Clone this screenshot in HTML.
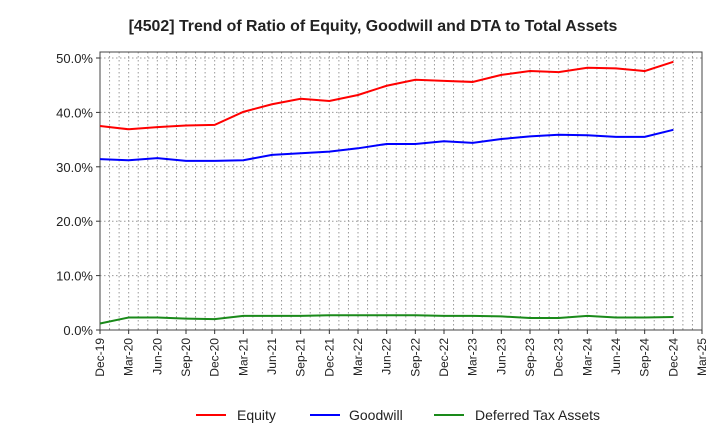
<!DOCTYPE html>
<html><head><meta charset="utf-8"><style>
body{margin:0;background:#fff;font-family:"Liberation Sans",sans-serif;}
</style></head><body>
<svg id="c" width="720" height="440" style="font-family:'Liberation Sans',sans-serif">
<text x="373" y="31" text-anchor="middle" font-size="15.9" font-weight="bold" fill="#222">[4502]  Trend of Ratio of Equity, Goodwill and DTA to Total Assets</text>
<g id="grid"></g><g id="axes"></g><g id="series"></g>
<g>
<line x1="196" y1="415" x2="226" y2="415" stroke="#f00" stroke-width="2"/><text x="237" y="420" font-size="14" fill="#222">Equity</text>
<line x1="310" y1="415" x2="340" y2="415" stroke="#00f" stroke-width="2"/><text x="349" y="420" font-size="14" fill="#222">Goodwill</text>
<line x1="434" y1="415" x2="464" y2="415" stroke="#1a8a1a" stroke-width="2"/><text x="475" y="420" font-size="14" fill="#222">Deferred Tax Assets</text>
</g>
</svg>
<script>
const xLabels=["Dec-19","Mar-20","Jun-20","Sep-20","Dec-20","Mar-21","Jun-21","Sep-21","Dec-21","Mar-22","Jun-22","Sep-22","Dec-22","Mar-23","Jun-23","Sep-23","Dec-23","Mar-24","Jun-24","Sep-24","Dec-24","Mar-25"];
const yTicks=[0,10,20,30,40,50];
const equity=[37.5,36.9,37.3,37.6,37.7,40.1,41.5,42.5,42.1,43.2,44.9,46.0,45.8,45.6,46.9,47.6,47.4,48.2,48.1,47.6,49.3];
const goodwill=[31.4,31.2,31.6,31.1,31.1,31.2,32.2,32.5,32.8,33.4,34.2,34.2,34.7,34.4,35.1,35.6,35.9,35.8,35.5,35.5,36.8];
const dta=[1.2,2.3,2.3,2.1,2.0,2.6,2.6,2.6,2.7,2.7,2.7,2.7,2.6,2.6,2.5,2.2,2.2,2.6,2.3,2.3,2.4];
const L=100,R=702,T=52,B=330;
const step=(R-L)/(xLabels.length-1);
const xs=i=>L+i*step, ys=v=>B-v*(B-58)/50;
const NS="http://www.w3.org/2000/svg";
function mk(p,t,a){const e=document.createElementNS(NS,t);for(const k in a)e.setAttribute(k,a[k]);p.appendChild(e);return e;}
const g=document.getElementById('grid'),ax=document.getElementById('axes'),s=document.getElementById('series');
for(let m=1;m<(xLabels.length-1)*3;m++){const x=L+m*step/3;
 const l=mk(g,'line',{x1:x,x2:x,y1:T,y2:B,stroke:'#999','stroke-dasharray':'1.5,2.5','stroke-width':1});
 }
yTicks.forEach(v=>{const y=ys(v);
 if(v>0){const l=mk(g,'line',{x1:L,x2:R,y1:y,y2:y,stroke:'#999','stroke-dasharray':'1.5,2.5','stroke-width':1});
 }
 mk(ax,'line',{x1:L-4,x2:L,y1:y,y2:y,stroke:'#333'});
 const t=mk(ax,'text',{x:L-7,y:y+5,'text-anchor':'end','font-size':13,fill:'#222'});t.textContent=v.toFixed(1)+'%';
 });
const fr=mk(ax,'rect',{x:L,y:T,width:R-L,height:B-T,fill:'none',stroke:'#444'});

xLabels.forEach((lb,i)=>{const x=xs(i);mk(ax,'line',{x1:x,x2:x,y1:B,y2:B+4,stroke:'#333'});
 const t=mk(ax,'text',{x:x+4,y:B+8,'text-anchor':'end','font-size':12,fill:'#222',transform:`rotate(-90 ${x+4} ${B+8})`});t.textContent=lb;
 });
[[equity,'#f00','equity-line'],[goodwill,'#00f','goodwill-line'],[dta,'#1a8a1a','dta-line']].forEach(([d,c,n])=>{
 const p=mk(s,'polyline',{points:d.map((v,i)=>xs(i)+','+ys(v)).join(' '),fill:'none',stroke:c,'stroke-width':2});
 });
</script>
</body></html>
